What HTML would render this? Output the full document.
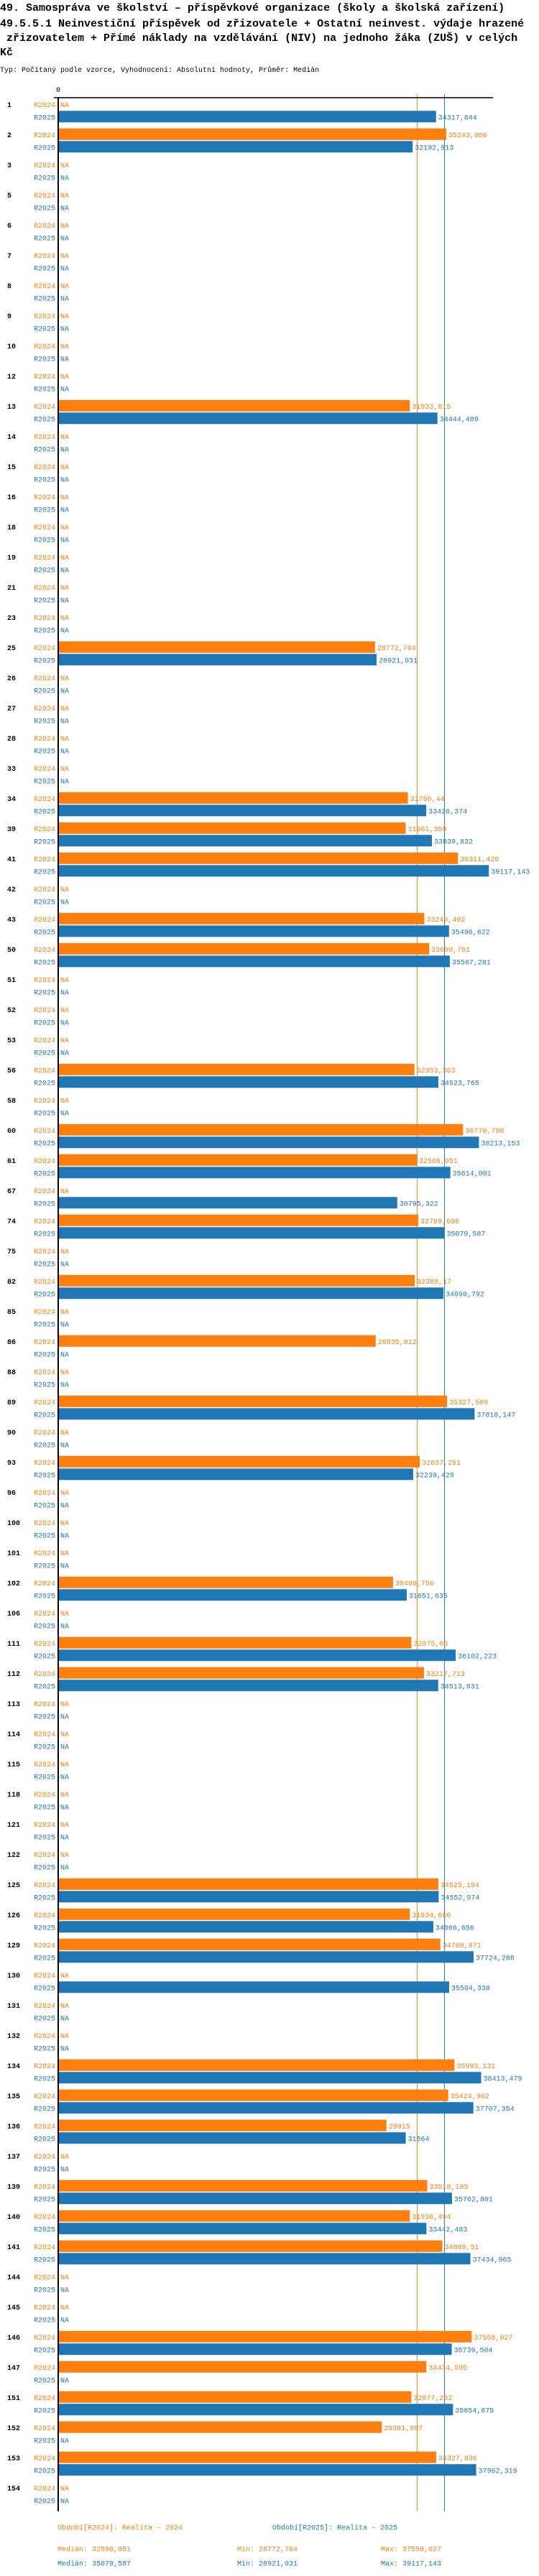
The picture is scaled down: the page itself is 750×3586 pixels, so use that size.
<!DOCTYPE html>
<html><head><meta charset="utf-8">
<style>
html,body{margin:0;padding:0;background:#fff;}
svg{display:block;font-family:"Liberation Mono",monospace;}
.t{font-weight:bold;font-size:15px;fill:#000;}
.s{font-size:10px;}
</style></head>
<body>
<svg id="chart" width="750" height="3586" viewBox="0 0 750 3586" xmlns="http://www.w3.org/2000/svg">
<g>
<text class="t" x="0" y="15" xml:space="preserve">49. Samospráva ve školství – příspěvkové organizace (školy a školská zařízení)</text>
<text class="t" x="0" y="37" xml:space="preserve">49.5.5.1 Neinvestiční příspěvek od zřizovatele + Ostatní neinvest. výdaje hrazené</text>
<text class="t" x="0" y="57" xml:space="preserve"> zřizovatelem + Přímé náklady na vzdělávání (NIV) na jednoho žáka (ZUŠ) v celých</text>
<text class="t" x="0" y="77" xml:space="preserve">Kč</text>
</g>
<text class="s" x="0" y="100">Typ: Počítaný podle vzorce, Vyhodnocení: Absolutní hodnoty, Průměr: Medián</text>
<text class="s" x="81" y="128" text-anchor="middle">0</text>
<g id="marks"></g>
<line x1="75" y1="136" x2="686" y2="136" stroke="#000" stroke-width="1.5"/>
<line x1="81" y1="136" x2="81" y2="3496" stroke="#000" stroke-width="2"/>
<g>
<text class="s" x="80" y="3521.5" fill="#ff7f0e">Období[R2024]: Realita – 2024</text>
<text class="s" x="379" y="3521.5" fill="#1f77b4">Období[R2025]: Realita – 2025</text>
<text class="s" x="80" y="3551.5" fill="#ff7f0e">Medián: 32598,051</text>
<text class="s" x="330" y="3551.5" fill="#ff7f0e">Min: 28772,764</text>
<text class="s" x="530" y="3551.5" fill="#ff7f0e">Max: 37558,027</text>
<text class="s" x="80" y="3571.5" fill="#1f77b4">Medián: 35079,587</text>
<text class="s" x="330" y="3571.5" fill="#1f77b4">Min: 28921,031</text>
<text class="s" x="530" y="3571.5" fill="#1f77b4">Max: 39117,143</text>
</g>
</svg>
<script>
const categories = ["1","2","3","5","6","7","8","9","10","12","13","14","15","16","18","19","21","23","25","26","27","28","33","34","39","41","42","43","50","51","52","53","56","58","60","61","67","74","75","82","85","86","88","89","90","93","96","100","101","102","106","111","112","113","114","115","118","121","122","125","126","129","130","131","132","134","135","136","137","139","140","141","144","145","146","147","151","152","153","154"];
const values2024 = [null,35243.006,null,null,null,null,null,null,null,null,31933.815,null,null,null,null,null,null,null,28772.764,null,null,null,null,31760.44,31561.359,36311.429,null,33249.402,33690.701,null,null,null,32353.363,null,36770.798,32566.051,null,32709.696,null,32388.17,null,28835.012,null,35327.509,null,32837.251,null,null,null,30408.756,null,32075.05,33217.713,null,null,null,null,null,null,34525.194,31934.606,34708.871,null,null,null,35993.131,35424.902,29815,null,33518.185,31936.494,34889.51,null,null,37558.027,33434.595,32077.232,29381.907,34327.836,null];
const values2025 = [34317.844,32192.913,null,null,null,null,null,null,null,null,34444.489,null,null,null,null,null,null,null,28921.031,null,null,null,null,33426.374,33939.832,39117.143,null,35496.622,35567.281,null,null,null,34523.765,null,38213.153,35614.001,30795.322,35079.587,null,34990.792,null,null,null,37818.147,null,32239.429,null,null,null,31651.635,null,36102.223,34513.831,null,null,null,null,null,null,34552.974,34066.656,37724.286,35504.338,null,null,38413.479,37707.354,31564,null,35762.801,33442.483,37434.965,null,null,35739.504,null,35854.875,null,37962.319,null];
const medians = [32598.051, 35079.587];
const seriesNames = ["R2024","R2025"];

const NS = "http://www.w3.org/2000/svg";
const colors = ["#ff7f0e","#1f77b4"];
const x0 = 81, kx = 0.01532;
function xScale(v){ return x0 + v*kx; }
function yScale(i){ return 145.3 + 42*i; }
const g = document.getElementById("marks");
function mk(tag, attrs){ const e=document.createElementNS(NS,tag); for(const k in attrs) e.setAttribute(k,attrs[k]); return e; }
function fmt(v){ return String(v).replace('.',','); }

medians.forEach((m,s)=>{
  const l = mk("line",{x1:xScale(m),x2:xScale(m),y1:131,y2:3496,stroke:colors[s],"stroke-width":1});
  
  
  g.appendChild(l);
});

categories.forEach((c,i)=>{
  const cy = yScale(i);
  const lab = mk("text",{x:10,y:cy+3.5,"font-size":"10","font-weight":"bold",fill:"#000"});
  lab.textContent = c;
  
  
  g.appendChild(lab);
  [values2024[i], values2025[i]].forEach((v,s)=>{
    const ty = cy + s*17.5;
    const sl = mk("text",{x:77,y:ty+3.5,"font-size":"10","text-anchor":"end",fill:colors[s]});
    sl.textContent = seriesNames[s];
    
    
    g.appendChild(sl);
    if(v==null){
      const na = mk("text",{x:84,y:ty+3.5,"font-size":"10",fill:colors[s]});
      na.textContent = "NA";
      
      
      g.appendChild(na);
    } else {
      const r = mk("rect",{x:x0,y:ty-8.5,width:xScale(v)-x0,height:16,fill:colors[s]});
      
      
      g.appendChild(r);
      const vl = mk("text",{x:xScale(v)+3,y:ty+3.5,"font-size":"10",fill:colors[s]});
      vl.textContent = fmt(v);
      
      
      g.appendChild(vl);
    }
  });
});
</script>
</body></html>
